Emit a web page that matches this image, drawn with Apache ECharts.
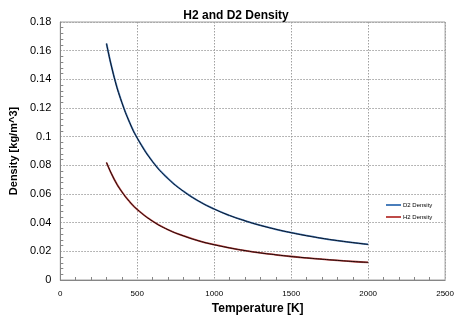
<!DOCTYPE html>
<html>
<head>
<meta charset="utf-8">
<script src="https://cdn.jsdelivr.net/npm/echarts@6/dist/echarts.min.js"></script>
<style>
html,body{margin:0;padding:0;background:#fff;}
#chart{width:457px;height:320px;}
</style>
</head>
<body>
<div id="chart"></div>
<script>
// Temperature samples [K]
const temperature = [300, 350, 400, 450, 500, 600, 700, 800, 900, 1000, 1100, 1200, 1300, 1400, 1500, 1600, 1700, 1800, 1900, 2000];
// Density [kg/m^3]
const d2Density = [0.165, 0.1414, 0.1238, 0.1100, 0.0990, 0.0825, 0.0707, 0.0619, 0.0550, 0.0495, 0.0450, 0.0413, 0.0381, 0.0354, 0.0330, 0.0309, 0.0291, 0.0275, 0.0261, 0.0248];
const h2Density = [0.0820, 0.0703, 0.0615, 0.0547, 0.0492, 0.0410, 0.0351, 0.0308, 0.0273, 0.0246, 0.0224, 0.0205, 0.0189, 0.0176, 0.0164, 0.0154, 0.0145, 0.0137, 0.0129, 0.0123];

const pairs = (ys) => temperature.map((t, i) => [t, ys[i]]);
const font = '"Liberation Sans", Arial, sans-serif';

const chart = echarts.init(document.getElementById('chart'), null, {renderer: 'canvas'});
chart.setOption({
  animation: false,
  backgroundColor: '#fff',
  title: {
    text: 'H2 and D2 Density',
    left: 231, top: 5, textAlign: 'center',
    textStyle: {fontFamily: font, fontSize: 12, fontWeight: 'bold', color: '#000'}
  },
  legend: {
    orient: 'vertical', left: 381, top: 197,
    itemWidth: 15, itemHeight: 2, itemGap: 6,
    icon: 'rect',
    data: ['D2 Density', 'H2 Density'],
    textStyle: {fontFamily: font, fontSize: 6, color: '#000', padding: [0, 0, 0, -3]}
  },
  grid: {left: 60, right: 9, top: 22, bottom: 40, show: true, borderColor: '#a0a0a0', borderWidth: 1},
  xAxis: {
    type: 'value', min: 0, max: 2500, interval: 500,
    name: 'Temperature [K]', nameLocation: 'middle', nameGap: 22,
    nameTextStyle: {fontFamily: font, fontSize: 12, fontWeight: 'bold', color: '#000', padding: [0, 0, 0, 10]},
    axisLine: {lineStyle: {color: '#868686'}},
    axisTick: {show: false, inside: true},
    minorTick: {show: true, splitNumber: 5, length: 3, lineStyle: {color: '#868686'}},
    axisLabel: {fontFamily: font, fontSize: 8, color: '#000', margin: 10, formatter: (v) => String(v)},
    splitLine: {show: true, lineStyle: {color: '#a0a0a0', type: [1.5, 1.5], width: 1}}
  },
  yAxis: {
    type: 'value', min: 0, max: 0.18, interval: 0.02,
    name: 'Density [kg/m^3]', nameLocation: 'middle', nameGap: 37,
    nameTextStyle: {fontFamily: font, fontSize: 11, fontWeight: 'bold', color: '#000'},
    axisLine: {show: true, lineStyle: {color: '#868686'}},
    axisTick: {show: false, inside: true},
    minorTick: {show: true, splitNumber: 5, length: 3, lineStyle: {color: '#868686'}},
    axisLabel: {fontFamily: font, fontSize: 11, color: '#000', margin: 9},
    splitLine: {show: true, lineStyle: {color: '#a0a0a0', type: [1.5, 1.5], width: 1}}
  },
  series: [
    {name: 'D2 Density', type: 'line', data: pairs(d2Density), smooth: true, symbol: 'none',
     color: '#4a7ebb', lineStyle: {color: '#4a7ebb', width: 1.8}},
    {name: 'H2 Density', type: 'line', data: pairs(h2Density), smooth: true, symbol: 'none',
     color: '#be4b48', lineStyle: {color: '#be4b48', width: 1.8}},
    {name: 'd2-core', type: 'line', data: pairs(d2Density), smooth: true, symbol: 'none',
     lineStyle: {color: '#0b1424', width: 1}},
    {name: 'h2-core', type: 'line', data: pairs(h2Density), smooth: true, symbol: 'none',
     lineStyle: {color: '#1e0808', width: 1}}
  ]
});
</script>
</body>
</html>
